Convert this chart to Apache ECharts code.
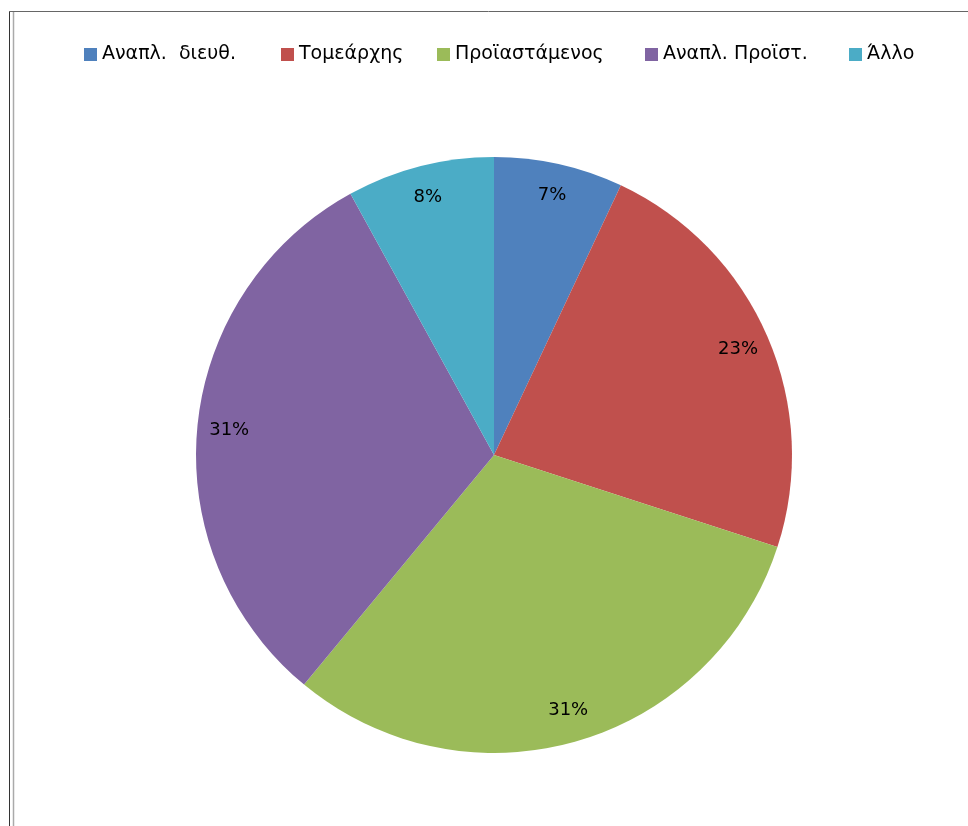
<!DOCTYPE html>
<html>
<head>
<meta charset="utf-8">
<script src="https://cdn.jsdelivr.net/npm/echarts@6/dist/echarts.min.js"></script>
<style>
  html, body { margin: 0; padding: 0; background: #fff; }
  #chart { width: 968px; height: 826px; }
</style>
</head>
<body>
<div id="chart"></div>
<script>
// Position categories and their shares (%)
const categories = ['Αναπλ.  διευθ.', 'Τομεάρχης', 'Προϊαστάμενος', 'Αναπλ. Προϊστ.', 'Άλλο'];
const shares = [7, 23, 31, 31, 8];
const colors = ['#4F81BD', '#C0504D', '#9BBB59', '#8064A2', '#4BACC6'];

const pieData = categories.map((name, i) => ({ name, value: shares[i] }));

const chart = echarts.init(document.getElementById('chart'), null, { renderer: 'canvas' });
const font = "'DejaVu Sans', Verdana, sans-serif";

// one legend entry per category, laid out along the top row
const LEGEND_LEFT = [79, 276, 432, 640, 844];
const legends = categories.map((name, i) => ({
  top: 40,
  left: LEGEND_LEFT[i],
  itemWidth: 13,
  itemHeight: 13,
  itemGap: 0,
  icon: 'rect',
  textStyle: { fontFamily: font, fontSize: 19, color: '#000' },
  data: [name]
}));

chart.setOption({
  animation: false,
  color: colors,
  legend: legends,
  // window frame lines around the chart area
  graphic: [
    { type: 'line', shape: { x1: 9.5, y1: 11.5, x2: 9.5, y2: 826 }, style: { stroke: '#333', lineWidth: 1 } },
    { type: 'line', shape: { x1: 13.5, y1: 12, x2: 13.5, y2: 826 }, style: { stroke: '#aaa', lineWidth: 1.5 } },
    { type: 'line', shape: { x1: 9, y1: 11.5, x2: 968, y2: 11.5 }, style: { stroke: '#666', lineWidth: 1 } }
  ],
  series: [
    {
      type: 'pie',
      center: [494, 455],
      radius: [0, 298],
      startAngle: 90,
      clockwise: true,
      silent: true,
      label: { show: false },
      labelLine: { show: false },
      itemStyle: { borderWidth: 0 },
      data: pieData
    },
    {
      // transparent ring used only to place the percentage labels near the rim
      type: 'pie',
      center: [494, 455],
      radius: [228, 298],
      startAngle: 90,
      clockwise: true,
      silent: true,
      legendHoverLink: false,
      itemStyle: { color: 'rgba(0,0,0,0)', borderWidth: 0 },
      label: {
        show: true,
        position: 'inside',
        formatter: p => p.value + '%',
        fontFamily: font,
        fontSize: 18,
        color: '#000'
      },
      labelLine: { show: false },
      data: pieData
    }
  ]
});
</script>
</body>
</html>
